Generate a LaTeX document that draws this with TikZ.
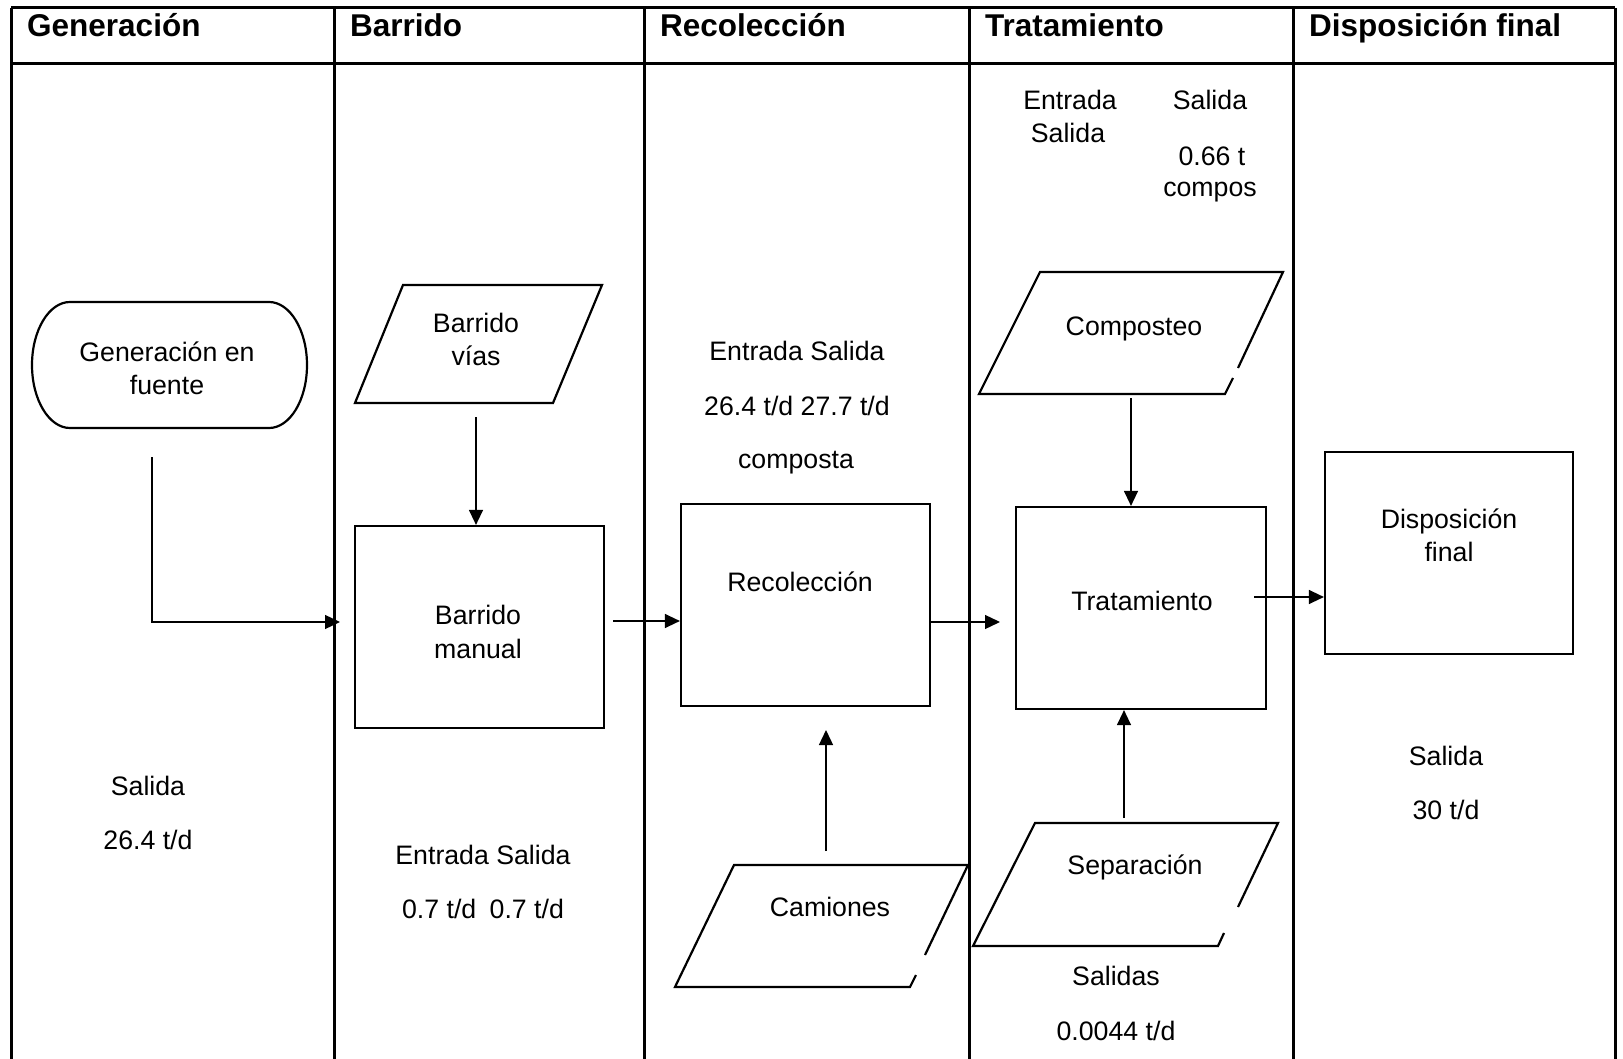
\documentclass[tikz,border=0pt]{standalone}
\usepackage{fontspec}
\setmainfont{Liberation Sans}
\usetikzlibrary{arrows.meta}

\begin{document}
\begin{tikzpicture}[x=1pt,y=-1pt,
  lane/.style={line width=3pt},
  box/.style={draw, line width=2.2pt, inner sep=0pt},
  outline/.style={line width=2.2pt, line join=miter},
  flow/.style={line width=1.3pt, -{Triangle[length=15pt,width=14pt]}},
  txt/.style={font=\fontsize{26.7}{32}\selectfont, anchor=base, inner sep=0pt},
  hdr/.style={font=\fontsize{31.5}{36}\selectfont\bfseries, anchor=base west, inner sep=0pt},
]
\useasboundingbox (0,0) rectangle (1623,1059);

% swim-lane grid
\draw[lane] (11,8) -- (1615,8);
\draw[lane] (11,64) -- (1615,64);
\foreach \lx in {11,334,644,969,1293,1615}
  \draw[lane] (\lx,8) -- (\lx,1059);

% lane headers
\node[hdr] (hgen) at (27,37) {Generación};
\node[hdr] (hbar) at (350,37) {Barrido};
\node[hdr] (hrec) at (660,37) {Recolección};
\node[hdr] (htra) at (985,37) {Tratamiento};
\node[hdr] (hdis) at (1309,37) {Disposición final};

% terminal: source generation
\draw[outline] (70,302) -- (269,302)
  arc[start angle=90, end angle=-90, x radius=38pt, y radius=63pt]
  -- (70,428)
  arc[start angle=270, end angle=90, x radius=38pt, y radius=63pt] -- cycle;
\node[txt] (gen1) at (167,362) {Generación en};
\node[txt] (gen2) at (167,394) {fuente};
\node[txt] (gensal) at (148,795) {Salida};
\node[txt] (genval) at (148,849) {26.4 t/d};

% input parallelograms
\draw[outline] (403,285) -- (602,285) -- (553,403) -- (355,403) -- cycle;
\node[txt] (bv1) at (476,333) {Barrido};
\node[txt] (bv2) at (476,366) {vías};

\draw[outline] (1238,368) -- (1283,272) -- (1040,272) -- (979,394) -- (1225,394) -- (1233,378);
\node[txt] (co) at (1134,336) {Composteo};

\draw[outline] (925,955) -- (968,865) -- (734,865) -- (675,987) -- (910,987) -- (916,975);
\node[txt] (ca) at (830,916) {Camiones};

\draw[outline] (1238,907) -- (1278,823) -- (1035,823) -- (973,946) -- (1218,946) -- (1224,933);
\node[txt] (se) at (1135,874) {Separación};

% process boxes
\node[box, minimum width=249pt, minimum height=202pt] (bm) at (479.5,627) {};
\node[txt] (bm1) at (478,624) {Barrido};
\node[txt] (bm2) at (478,658) {manual};

\node[box, minimum width=249pt, minimum height=202pt] (rc) at (805.5,605) {};
\node[txt] (rc1) at (800,591) {Recolección};

\node[box, minimum width=250pt, minimum height=202pt] (tr) at (1141,608) {};
\node[txt] (tr1) at (1142,610) {Tratamiento};

\node[box, minimum width=248pt, minimum height=202pt] (dp) at (1449,553) {};
\node[txt] (dp1) at (1449,528) {Disposición};
\node[txt] (dp2) at (1449,561) {final};

% flow figures
\node[txt] (bmes) at (483,864) {Entrada Salida};
\node[txt] (bmval) at (483,918) {0.7 t/d\enspace 0.7 t/d};

\node[txt] (rces) at (797,361) {Entrada Salida};
\node[txt] (rcval) at (797,415) {26.4 t/d 27.7 t/d};
\node[txt] (rccomp) at (796,468) {composta};

\node[txt] (tren) at (1070,110) {Entrada};
\node[txt] (trsa) at (1068,143) {Salida};
\node[txt] (trsa2) at (1210,110) {Salida};
\node[txt] (trval) at (1212,166) {0.66 t};
\node[txt] (trcomp) at (1210,197) {compos};

\node[txt] (sesal) at (1116,985) {Salidas};
\node[txt] (seval) at (1116,1040) {0.0044 t/d};

\node[txt] (dpsal) at (1446,765) {Salida};
\node[txt] (dpval) at (1446,819) {30 t/d};

% connectors
\coordinate (genout) at (152,457);
\coordinate (bmin) at (340,622);
\draw[flow] (genout) |- (bmin);

\coordinate (bvout) at (476,417);
\draw[flow] (bvout) -- (bvout |- bm.north);

\coordinate (bmout) at (613,621);
\draw[flow] (bmout) -- (bmout -| rc.west);

\coordinate (rcout) at (931,622);
\coordinate (trin) at (1000,622);
\draw[flow] (rcout) -- (trin);

\coordinate (caout) at (826,851);
\coordinate (rcin) at (826,730);
\draw[flow] (caout) -- (rcin);

\coordinate (coout) at (1131,398);
\draw[flow] (coout) -- (coout |- tr.north);

\coordinate (seout) at (1124,818);
\draw[flow] (seout) -- (seout |- tr.south);

\coordinate (trout) at (1254,597);
\draw[flow] (trout) -- (trout -| dp.west);
\end{tikzpicture}
\end{document}
